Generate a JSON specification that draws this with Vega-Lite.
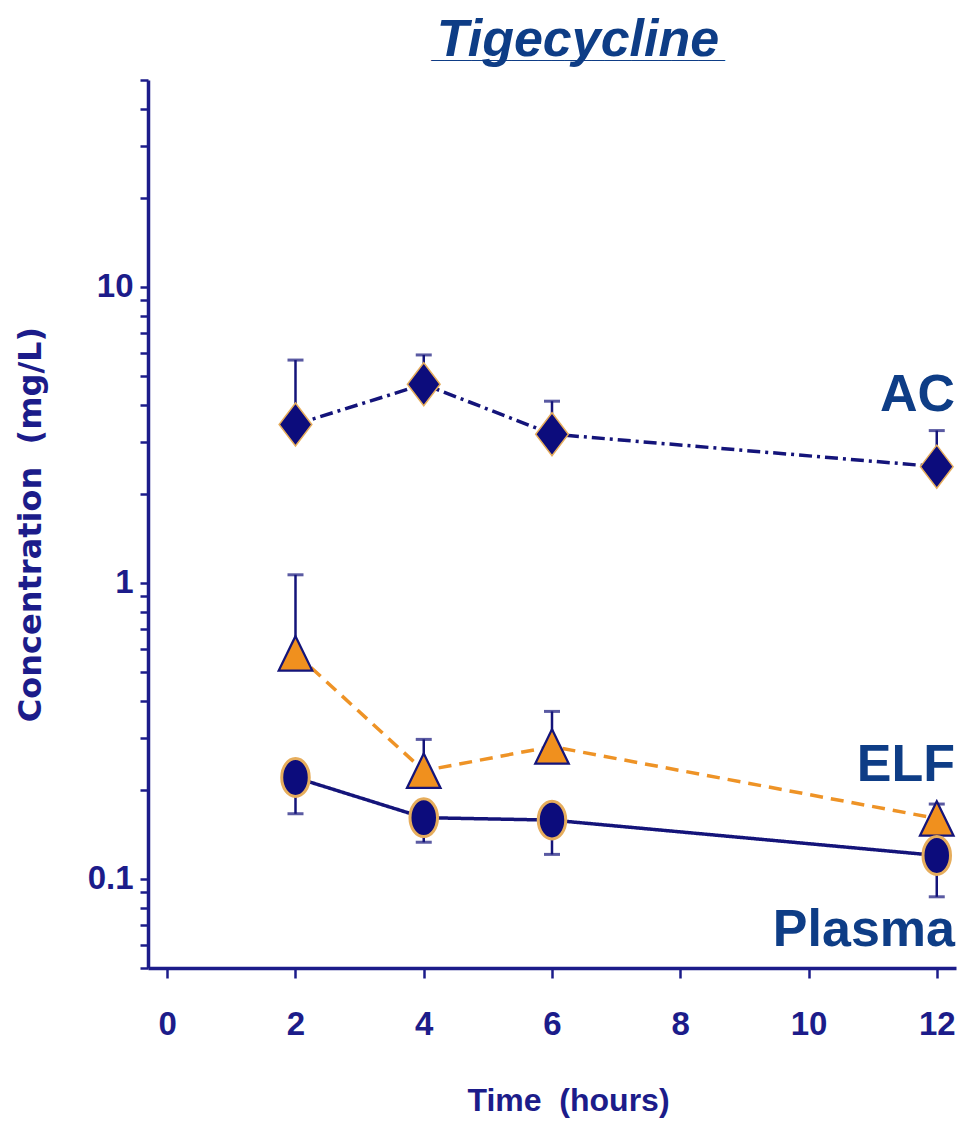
{
  "$schema": "https://vega.github.io/schema/vega-lite/v6.json",
  "width": 808,
  "height": 888,
  "autosize": "none",
  "padding": {"left": 148, "top": 80, "right": 3, "bottom": 155},
  "background": "white",
  "title": {
    "text": "Tigecycline",
    "subtitle": "______________________",
    "font": "Liberation Sans",
    "fontSize": 52,
    "fontWeight": "bold",
    "fontStyle": "italic",
    "color": "#0e3d86",
    "subtitleFont": "Liberation Sans",
    "subtitleFontSize": 24,
    "subtitleFontWeight": "bold",
    "subtitleColor": "#0e3d86",
    "subtitlePadding": -28,
    "anchor": "middle",
    "dx": 26,
    "offset": -3
  },
  "config": {
    "view": {"stroke": null},
    "axis": {"grid": false}
  },
  "datasets": {
    "pk": [
      {"series": "AC", "time": 2, "conc": 3.43, "bar": 5.66},
      {"series": "AC", "time": 4, "conc": 4.69, "bar": 5.89},
      {"series": "AC", "time": 6, "conc": 3.18, "bar": 4.11},
      {"series": "AC", "time": 12, "conc": 2.47, "bar": 3.27},
      {"series": "ELF", "time": 2, "conc": 0.578, "bar": 1.065},
      {"series": "ELF", "time": 4, "conc": 0.232, "bar": 0.296},
      {"series": "ELF", "time": 6, "conc": 0.28, "bar": 0.368},
      {"series": "ELF", "time": 12, "conc": 0.16, "bar": 0.179},
      {"series": "Plasma", "time": 2, "conc": 0.22, "bar": 0.166},
      {"series": "Plasma", "time": 4, "conc": 0.161, "bar": 0.133},
      {"series": "Plasma", "time": 6, "conc": 0.158, "bar": 0.121},
      {"series": "Plasma", "time": 12, "conc": 0.12, "bar": 0.087}
    ],
    "labels": [
      {"label": "AC", "time": 12.3, "conc": 4.3},
      {"label": "ELF", "time": 12.3, "conc": 0.243},
      {"label": "Plasma", "time": 12.3, "conc": 0.067}
    ]
  },
  "layer": [
    {
      "data": {"name": "pk"},
      "mark": {"type": "line", "strokeWidth": 3.5},
      "encoding": {
        "x": {
          "field": "time",
          "type": "quantitative",
          "scale": {"domain": [-0.3, 12.3], "nice": false, "zero": false},
          "axis": {
            "values": [0, 2, 4, 6, 8, 10, 12],
            "format": "d",
            "title": "Time\u00a0 (hours)",
            "domainColor": "#1c1c8a",
            "domainWidth": 3.5,
            "tickColor": "#1c1c8a",
            "tickWidth": 2.5,
            "tickSize": 10,
            "labelFont": "Liberation Sans",
            "labelFontWeight": "bold",
            "labelFontSize": 33,
            "labelColor": "#1c1c8a",
            "labelPadding": 30,
            "titleFont": "Liberation Sans",
            "titleFontWeight": "bold",
            "titleFontSize": 32,
            "titleColor": "#1c1c8a",
            "titlePadding": 44,
            "titleAnchor": "middle",
            "titleX": 420
          }
        },
        "y": {
          "field": "conc",
          "type": "quantitative",
          "scale": {"type": "log", "domain": [0.05, 50], "nice": false},
          "axis": {
            "values": [0.05, 0.06, 0.07, 0.08, 0.09, 0.1, 0.2, 0.3, 0.4, 0.5, 0.6, 0.7, 0.8, 0.9, 1, 2, 3, 4, 5, 6, 7, 8, 9, 10, 20, 30, 40, 50],
            "labelExpr": "datum.value === 0.1 ? '0.1' : datum.value === 1 ? '1' : datum.value === 10 ? '10' : ''",
            "labelOverlap": false,
            "labelBound": false,
            "title": "Concentration\u00a0 (mg/L)",
            "domainColor": "#1c1c8a",
            "domainWidth": 3.5,
            "tickColor": "#1c1c8a",
            "tickWidth": 2.5,
            "tickSize": 8,
            "labelFont": "Liberation Sans",
            "labelFontWeight": "bold",
            "labelFontSize": 33,
            "labelColor": "#1c1c8a",
            "labelPadding": 7,
            "titleFont": "DejaVu Sans",
            "titleFontWeight": "bold",
            "titleFontSize": 32,
            "titleColor": "#1c1c8a",
            "titlePadding": 40
          }
        },
        "detail": {"field": "series"},
        "color": {
          "field": "series",
          "type": "nominal",
          "scale": {"domain": ["AC", "ELF", "Plasma"], "range": ["#14147a", "#ee9326", "#14147a"]},
          "legend": null
        },
        "strokeDash": {
          "field": "series",
          "type": "nominal",
          "scale": {"domain": ["AC", "ELF", "Plasma"], "range": [[13, 5, 3, 5], [13, 8], [1, 0]]},
          "legend": null
        }
      }
    },
    {
      "data": {"name": "pk"},
      "mark": {"type": "rule", "color": "#14147a", "strokeWidth": 2.5},
      "encoding": {
        "x": {"field": "time", "type": "quantitative"},
        "y": {"field": "conc", "type": "quantitative"},
        "y2": {"field": "bar"}
      }
    },
    {
      "data": {"name": "pk"},
      "mark": {"type": "tick", "orient": "horizontal", "color": "#14147a", "thickness": 3, "size": 16},
      "encoding": {
        "x": {"field": "time", "type": "quantitative"},
        "y": {"field": "bar", "type": "quantitative"}
      }
    },
    {
      "data": {"name": "pk"},
      "mark": {"type": "point", "filled": true, "opacity": 1, "size": 1849},
      "encoding": {
        "x": {"field": "time", "type": "quantitative"},
        "y": {"field": "conc", "type": "quantitative"},
        "shape": {
          "field": "series",
          "type": "nominal",
          "scale": {
            "domain": ["AC", "ELF", "Plasma"],
            "range": [
              "M0,-1 L0.76,0 L0,1 L-0.76,0 Z",
              "M0,-0.8 L0.78,0.8 L-0.78,0.8 Z",
              "M-0.64,0 A0.64,0.88 0 1,1 0.64,0 A0.64,0.88 0 1,1 -0.64,0 Z"
            ]
          },
          "legend": null
        },
        "fill": {
          "field": "series",
          "type": "nominal",
          "scale": {"domain": ["AC", "ELF", "Plasma"], "range": ["#0c0c7c", "#f0901e", "#0c0c7c"]},
          "legend": null
        },
        "stroke": {
          "field": "series",
          "type": "nominal",
          "scale": {"domain": ["AC", "ELF", "Plasma"], "range": ["#e6ad5c", "#14147a", "#e6ad5c"]},
          "legend": null
        },
        "strokeWidth": {
          "field": "series",
          "type": "nominal",
          "scale": {"domain": ["AC", "ELF", "Plasma"], "range": [1.5, 3, 1.5]},
          "legend": null
        }
      }
    },
    {
      "data": {"name": "labels"},
      "mark": {"type": "text", "align": "right", "baseline": "middle", "font": "Liberation Sans", "fontWeight": "bold", "fontSize": 52, "color": "#0e3d86", "dx": -1},
      "encoding": {
        "x": {"field": "time", "type": "quantitative"},
        "y": {"field": "conc", "type": "quantitative"},
        "text": {"field": "label"}
      }
    }
  ]
}
